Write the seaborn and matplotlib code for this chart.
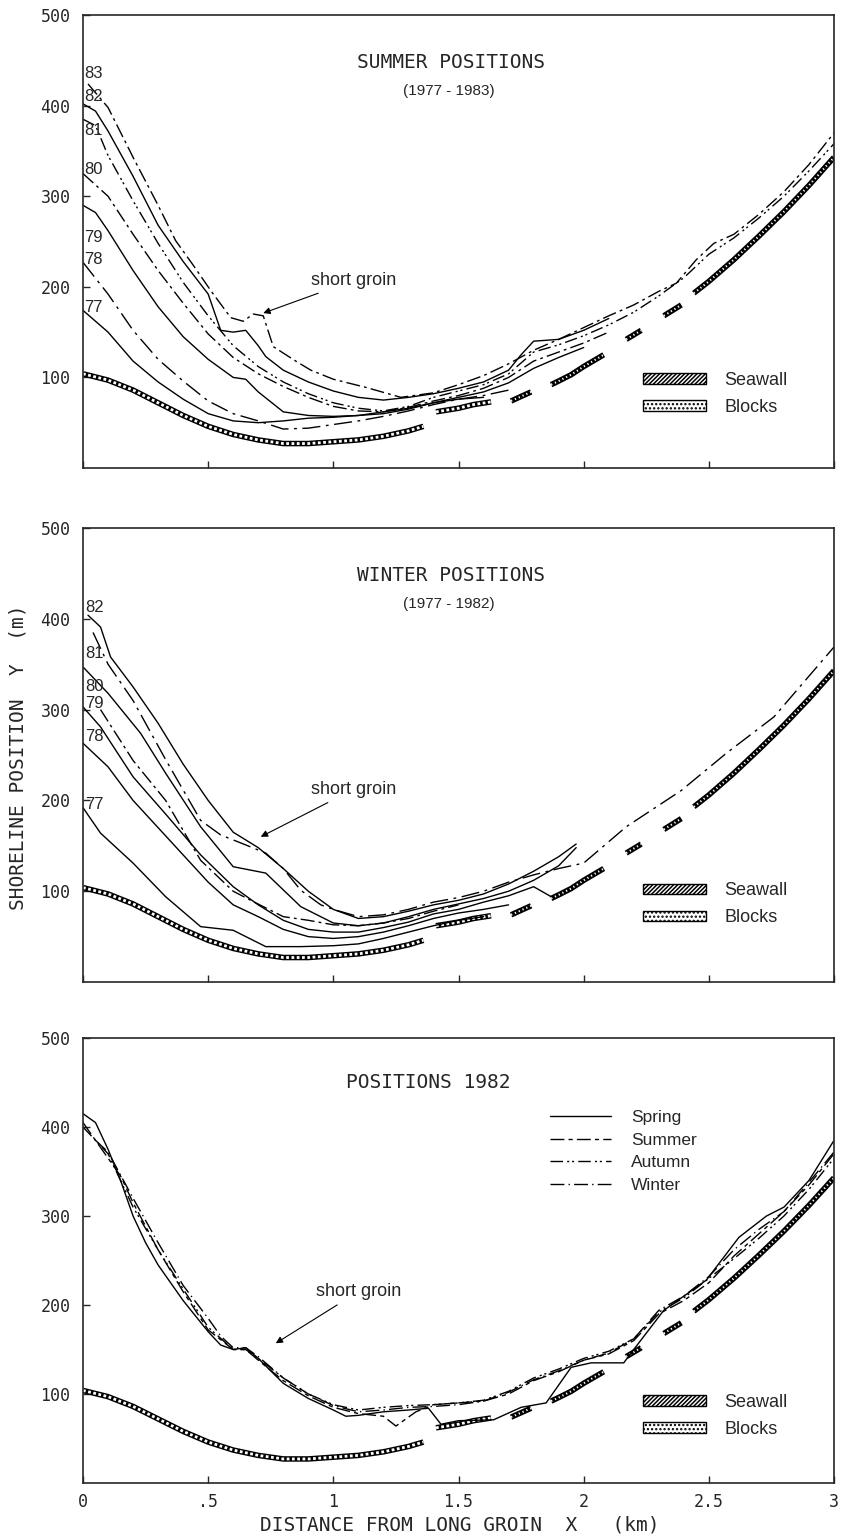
import matplotlib
matplotlib.use("Agg")
import matplotlib.pyplot as plt
from matplotlib.patches import Patch
from matplotlib.lines import Line2D
import seaborn as sns

# === data (x in km, y in m)

# coastal structures, same in the three panels
blocks_x = [[0, .1, .2, .3, .4, .5, .6, .7, .8, .9, 1.0, 1.1, 1.2, 1.3, 1.36],
            [1.41, 1.5, 1.56, 1.63]]
blocks_y = [[104, 97, 86, 72, 58, 46, 37, 31, 27, 27, 29, 31, 35, 41, 46],
            [62, 66, 70, 73]]
seawall_x = [[1.71, 1.79], [1.87, 1.9, 1.95, 2.0, 2.08], [2.17, 2.23], [2.32, 2.39],
             [2.44, 2.5, 2.6, 2.7, 2.8, 2.9, 3.0]]
seawall_y = [[74, 84], [92, 96, 103, 112, 125], [142, 152], [168, 180],
             [193, 206, 230, 256, 283, 312, 343]]

# summer positions 1977 - 1983
s83_x = [0.02, .1, .2, .3, .37, .44, .51, .59, .64, .68, .72, .76, .85, .91, 1.0, 1.13, 1.27, 1.4,
         1.5, 1.6, 1.7, 1.8, 1.9, 2.0, 2.1, 2.2, 2.3, 2.37, 2.45, 2.52, 2.6, 2.7, 2.8, 2.9, 3.0]
s83_y = [424, 398, 343, 290, 251, 224, 196, 166, 162, 170, 168, 134, 118, 108, 98, 89, 78, 83,
         92, 102, 115, 130, 142, 155, 168, 180, 195, 204, 230, 248, 258, 280, 305, 335, 370]
s82_x = [0, .05, .1, .2, .3, .4, .5, .55, .6, .65, .7, .73, .8, .9, 1.0, 1.1, 1.2, 1.3, 1.4, 1.5,
         1.6, 1.7, 1.75, 1.8, 1.9, 2.0, 2.1]
s82_y = [402, 394, 372, 322, 268, 228, 192, 152, 150, 152, 135, 123, 108, 95, 85, 78, 75, 78, 82, 88,
         95, 108, 125, 140, 142, 152, 165]
s81_x = [0, .05, .1, .2, .3, .4, .5, .6, .7, .8, .9, 1.0, 1.1, 1.2, 1.3, 1.4, 1.5, 1.6, 1.7, 1.8,
         1.9, 2.0, 2.1, 2.2, 2.3, 2.4, 2.5, 2.6, 2.7, 2.8, 2.9, 3.0]
s81_y = [385, 378, 345, 295, 248, 205, 168, 135, 112, 95, 82, 72, 66, 63, 68, 78, 85, 92, 104, 128,
         136, 146, 158, 172, 190, 210, 236, 254, 276, 300, 328, 358]
s80_x = [0, .1, .2, .3, .4, .5, .6, .7, .8, .9, 1.0, 1.1, 1.2, 1.3, 1.4, 1.5, 1.6, 1.7, 1.8, 1.9, 2.0, 2.1]
s80_y = [325, 300, 258, 218, 182, 148, 122, 104, 90, 78, 68, 63, 62, 67, 74, 80, 88, 100, 118, 128, 138, 150]
s79_x = [0, .05, .1, .2, .3, .4, .5, .6, .65, .7, .8, .9, 1.0, 1.1, 1.2, 1.3, 1.4, 1.5, 1.6, 1.7,
         1.8, 1.9, 2.0]
s79_y = [290, 282, 262, 218, 178, 145, 120, 100, 98, 84, 62, 58, 57, 58, 60, 65, 72, 78, 84, 94,
         110, 122, 133]
s78_x = [0, .1, .2, .3, .4, .5, .6, .7, .8, .9, 1.0, 1.1, 1.2, 1.3, 1.4, 1.5, 1.6, 1.7]
s78_y = [227, 192, 152, 120, 96, 74, 60, 52, 43, 44, 48, 52, 57, 63, 70, 76, 80, 86]
s77_x = [0, .1, .2, .3, .4, .5, .6, .7, .8, .9, 1.0, 1.1, 1.2, 1.3, 1.4, 1.5, 1.6]
s77_y = [174, 150, 118, 95, 76, 60, 52, 50, 52, 55, 56, 58, 62, 66, 72, 76, 78]
summer_labels = ["83", "82", "81", "80", "79", "78", "77"]
summer_label_y = [435, 410, 373, 329, 254, 230, 177]

# winter positions 1977 - 1982
w82_x = [0.02, .07, .11, .2, .3, .4, .5, .6, .7, .8, .9, 1.0, 1.1, 1.2, 1.3, 1.4, 1.5, 1.6, 1.7,
         1.8, 1.9, 1.97]
w82_y = [404, 391, 358, 325, 285, 240, 200, 165, 148, 125, 100, 80, 70, 72, 78, 85, 90, 97, 108,
         122, 138, 152]
w81_x = [0.04, .1, .2, .33, .47, .55, .65, .73, .8, .87, .95, 1.0, 1.1, 1.2, 1.3, 1.4, 1.5, 1.6,
         1.7, 1.8, 1.9, 2.0, 2.17, 2.39, 2.57, 2.76, 3.0]
w81_y = [385, 350, 310, 245, 178, 162, 151, 142, 125, 101, 85, 80, 72, 74, 80, 88, 93, 100,
         110, 118, 125, 131, 171, 211, 252, 292, 369]
w80_x = [0, .1, .23, .33, .47, .6, .73, .87, 1.0, 1.1, 1.2, 1.3, 1.4, 1.5, 1.6, 1.7, 1.8, 1.9, 1.97]
w80_y = [347, 318, 274, 230, 171, 127, 120, 83, 65, 62, 65, 72, 80, 86, 92, 100, 112, 128, 148]
w79_x = [0, .07, .2, .33, .47, .6, .7, .8, .9, 1.0, 1.1, 1.2, 1.3, 1.4, 1.5, 1.6, 1.7, 1.8, 1.87]
w79_y = [303, 281, 226, 185, 140, 105, 85, 68, 58, 55, 55, 60, 66, 75, 80, 88, 95, 105, 94]
w79b_x = [0.07, .2, .33, .47, .6, .67, .8, .9, 1.0, 1.1, 1.2, 1.3, 1.4, 1.5]
w79b_y = [300, 244, 200, 134, 100, 90, 72, 68, 63, 62, 65, 70, 78, 85]
w78_x = [0, .1, .2, .3, .4, .5, .6, .7, .8, .9, 1.0, 1.1, 1.2, 1.3, 1.4, 1.5, 1.6, 1.7]
w78_y = [263, 237, 200, 170, 140, 110, 85, 72, 58, 50, 48, 50, 55, 62, 70, 76, 80, 85]
w77_x = [0, .07, .2, .33, .47, .6, .73, .87, 1.0, 1.1, 1.2, 1.3, 1.4, 1.5, 1.6]
w77_y = [192, 164, 131, 94, 61, 57, 39, 39, 40, 42, 48, 55, 62, 68, 72]
winter_labels = ["82", "81", "80", "79", "78", "77"]
winter_label_y = [413, 362, 325, 307, 270, 195]

# positions 1982, four seasons
spring_x = [0, .05, .1, .15, .2, .25, .3, .4, .5, .55, .6, .65, .7, .8, .9, 1.0, 1.05, 1.1, 1.2,
            1.3, 1.38, 1.43, 1.5, 1.64, 1.75, 1.85, 1.95, 2.03, 2.16, 2.2, 2.32, 2.4, 2.49,
            2.62, 2.73, 2.8, 2.9, 3.0]
spring_y = [415, 405, 375, 340, 300, 270, 245, 205, 170, 155, 150, 152, 140, 112, 95, 82, 75, 76, 80,
            82, 84, 66, 70, 71, 85, 90, 130, 135, 135, 150, 194, 210, 228,
            276, 300, 310, 340, 385]
summer82_x = [0, .1, .15, .2, .3, .4, .5, .6, .65, .7, .8, .9, 1.0, 1.1, 1.2, 1.25, 1.33, 1.4,
              1.5, 1.6, 1.7, 1.8, 1.9, 2.0, 2.1, 2.2, 2.3, 2.4, 2.5, 2.6, 2.7, 2.8, 2.9, 3.0]
summer82_y = [405, 365, 345, 315, 262, 215, 172, 150, 150, 138, 115, 98, 85, 78, 75, 64, 80, 88,
              90, 92, 100, 115, 125, 138, 145, 160, 190, 205, 225, 255, 280, 305, 335, 370]
autumn_x = [0, .1, .2, .3, .4, .5, .6, .65, .7, .8, .9, 1.0, 1.1, 1.2, 1.3, 1.4, 1.5, 1.6, 1.7,
            1.8, 1.9, 2.0, 2.1, 2.2, 2.3, 2.4, 2.5, 2.6, 2.7, 2.8, 2.9, 3.0]
autumn_y = [400, 370, 310, 262, 218, 175, 150, 150, 140, 118, 100, 88, 82, 85, 87, 88, 90, 93, 103,
            118, 128, 140, 148, 162, 192, 208, 230, 252, 275, 300, 330, 365]
winter82_x = [0.05, .1, .2, .3, .4, .5, .55, .6, .65, .7, .8, .9, 1.0, 1.1, 1.2, 1.3, 1.4, 1.5,
              1.6, 1.7, 1.8, 1.9, 2.0, 2.1, 2.2, 2.3, 2.4, 2.5, 2.6, 2.7, 2.8, 2.9, 3.0]
winter82_y = [385, 372, 320, 270, 222, 185, 165, 152, 152, 142, 118, 100, 87, 80, 82, 85, 86, 88,
              92, 102, 116, 126, 138, 146, 162, 194, 210, 232, 262, 285, 305, 338, 372]
season_names = ["Spring", "Summer", "Autumn", "Winter"]

x_ticks = [0, .5, 1, 1.5, 2, 2.5, 3]
x_ticklabels = ["0", ".5", "1", "1.5", "2", "2.5", "3"]
y_ticks = [100, 200, 300, 400, 500]

# === line styles
SOLID = "-"
DASHDOT = (0, (10, 3, 2, 3))
LONGDASHDOT = (0, (13, 4, 2, 4))
DASHDOTDOT = (0, (9, 3, 1.5, 2, 1.5, 3))
DASHSHORT = (0, (10, 3, 3, 3))
DASHDOT1 = (0, (10, 3, 1, 3))

sns.set_style("ticks")
plt.rcParams["font.family"] = ["DejaVu Sans Mono"]
plt.rcParams["hatch.linewidth"] = 1.1
SANS = "Liberation Sans"

fig = plt.figure(figsize=(8.41, 15.39), dpi=100)
ax1 = fig.add_axes([0.0987, 0.6959, 0.893, 0.2943])
ax2 = fig.add_axes([0.0987, 0.3619, 0.893, 0.2950])
ax3 = fig.add_axes([0.0987, 0.0364, 0.893, 0.2891])


def curve(ax, x, y, ls, lw=1.0):
    sns.lineplot(x=x, y=y, ax=ax, color="k", lw=lw, linestyle=ls, sort=False, estimator=None)


def structures(ax):
    for xs, ys in zip(blocks_x, blocks_y):
        sns.lineplot(x=xs, y=ys, ax=ax, color="k", lw=4.0, sort=False, estimator=None,
                     solid_capstyle="butt")
        sns.lineplot(x=xs, y=ys, ax=ax, color="white", lw=2.0, linestyle=(0, (1.0, 0.9)),
                     sort=False, estimator=None)
    for xs, ys in zip(seawall_x, seawall_y):
        sns.lineplot(x=xs, y=ys, ax=ax, color="k", lw=4.0, sort=False, estimator=None,
                     solid_capstyle="butt")
        sns.lineplot(x=xs, y=ys, ax=ax, color="white", lw=1.5, linestyle=(0, (0.6, 1.4)),
                     sort=False, estimator=None)


def wall_legend(ax, ytop):
    handles = [Patch(facecolor="white", edgecolor="k", hatch="////////", lw=1.0),
               Patch(facecolor="white", edgecolor="k", hatch="....", lw=1.0)]
    leg = ax.legend(handles, ["Seawall", "Blocks"], loc="upper left",
                    bbox_to_anchor=(0.746, ytop), frameon=False, borderaxespad=0,
                    borderpad=0, handlelength=3.5, handleheight=0.5, handletextpad=1.0,
                    labelspacing=0.55, prop={"family": SANS, "size": 13})
    return leg


def frame(ax, show_x):
    ax.set_xlim(0, 3)
    ax.set_ylim(0, 500)
    ax.set_xticks(x_ticks)
    ax.set_yticks(y_ticks)
    ax.set_yticklabels([str(v) for v in y_ticks])
    if show_x:
        ax.set_xticklabels(x_ticklabels)
    else:
        ax.set_xticklabels([])
    ax.tick_params(direction="in", length=5, width=1.0, labelsize=12, pad=9)
    ax.tick_params(axis="x", pad=7)
    for sp in ax.spines.values():
        sp.set_visible(True)
        sp.set_linewidth(1.2)
    ax.set_xlabel("")
    ax.set_ylabel("")


# === panel 1: summer
structures(ax1)
curve(ax1, s83_x, s83_y, DASHDOT)
curve(ax1, s82_x, s82_y, SOLID)
curve(ax1, s81_x, s81_y, DASHDOTDOT)
curve(ax1, s80_x, s80_y, DASHDOT)
curve(ax1, s79_x, s79_y, SOLID)
curve(ax1, s78_x, s78_y, LONGDASHDOT)
curve(ax1, s77_x, s77_y, SOLID)
for lab, yy in zip(summer_labels, summer_label_y):
    ax1.text(0.005, yy, lab, family=SANS, fontsize=12, ha="left", va="center")
ax1.text(1.47, 448, "SUMMER POSITIONS", fontsize=14, ha="center", va="center")
ax1.text(1.46, 416, "(1977 - 1983)", family=SANS, fontsize=11, ha="center", va="center")
ax1.annotate("short groin", xy=(0.72, 171), xytext=(0.91, 207), family=SANS, fontsize=13,
             ha="left", va="center",
             arrowprops=dict(arrowstyle="-|>", color="k", lw=0.8, shrinkA=2, shrinkB=0,
                             mutation_scale=10))
wall_legend(ax1, 0.212)
frame(ax1, False)

# === panel 2: winter
structures(ax2)
curve(ax2, w82_x, w82_y, SOLID)
curve(ax2, w81_x, w81_y, LONGDASHDOT)
curve(ax2, w80_x, w80_y, SOLID)
curve(ax2, w79_x, w79_y, SOLID)
curve(ax2, w79b_x, w79b_y, DASHDOT)
curve(ax2, w78_x, w78_y, SOLID)
curve(ax2, w77_x, w77_y, SOLID)
for lab, yy in zip(winter_labels, winter_label_y):
    ax2.text(0.01, yy, lab, family=SANS, fontsize=12, ha="left", va="center")
ax2.text(1.47, 448, "WINTER POSITIONS", fontsize=14, ha="center", va="center")
ax2.text(1.46, 416, "(1977 - 1982)", family=SANS, fontsize=11, ha="center", va="center")
ax2.annotate("short groin", xy=(0.71, 160), xytext=(0.91, 212), family=SANS, fontsize=13,
             ha="left", va="center",
             arrowprops=dict(arrowstyle="-|>", color="k", lw=0.8, shrinkA=2, shrinkB=0,
                             mutation_scale=10))
wall_legend(ax2, 0.220)
frame(ax2, False)

# === panel 3: 1982 by season
structures(ax3)
season_styles = [SOLID, DASHSHORT, DASHDOTDOT, DASHDOT1]
curve(ax3, spring_x, spring_y, SOLID)
curve(ax3, summer82_x, summer82_y, DASHSHORT)
curve(ax3, autumn_x, autumn_y, DASHDOTDOT)
curve(ax3, winter82_x, winter82_y, DASHDOT1)
ax3.text(1.38, 450, "POSITIONS 1982", fontsize=14, ha="center", va="center")
ax3.annotate("short groin", xy=(0.77, 157), xytext=(0.93, 215), family=SANS, fontsize=13,
             ha="left", va="center",
             arrowprops=dict(arrowstyle="-|>", color="k", lw=0.8, shrinkA=2, shrinkB=0,
                             mutation_scale=10))
season_handles = [Line2D([], [], color="k", lw=1.0, linestyle=ls) for ls in season_styles]
leg_s = ax3.legend(season_handles, season_names, loc="upper left", bbox_to_anchor=(0.622, 0.838),
                   frameon=False, borderaxespad=0, borderpad=0, handlelength=3.5,
                   handletextpad=1.15, labelspacing=0.42, prop={"family": SANS, "size": 12.5})
ax3.add_artist(leg_s)
wall_legend(ax3, 0.200)
frame(ax3, True)

fig.text(18 / 841, 1 - 757 / 1539, "SHORELINE POSITION  Y  (m)", rotation=90,
         ha="center", va="center", fontsize=14)
fig.text(460 / 841, 1 - 1525 / 1539, "DISTANCE FROM LONG GROIN  X   (km)",
         ha="center", va="center", fontsize=14)

fig.savefig("out.png", dpi=100)
